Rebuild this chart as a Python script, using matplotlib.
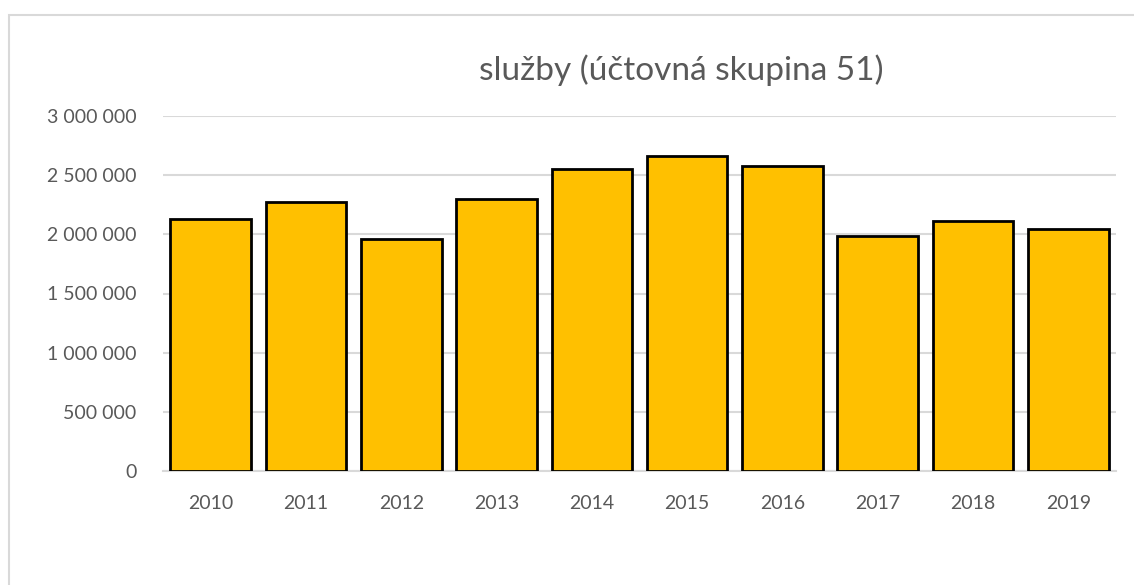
import matplotlib
matplotlib.use("Agg")
import matplotlib.pyplot as plt
from matplotlib.patches import Rectangle
from matplotlib.ticker import FuncFormatter, MultipleLocator

years = ["2010", "2011", "2012", "2013", "2014", "2015", "2016", "2017", "2018", "2019"]
values = [2129000, 2273000, 1958000, 2301000, 2549000, 2662000, 2577000, 1986000, 2110000, 2043000]
title = "služby (účtovná skupina 51)"

plt.rcParams['font.family'] = ['Lato', 'DejaVu Sans']

fig = plt.figure(figsize=(11.34, 5.85), dpi=100)
ax = fig.add_axes([163/1134, 1-471/585, (1116-163)/1134, (471-116)/585])

# outer chart border
fig.patches.append(Rectangle((9/1134, -0.05), 1.2, 1-15/585+0.05, transform=fig.transFigure,
                             fill=False, edgecolor='#d9d9d9', linewidth=1.5))

x = range(len(years))
ax.bar(x, values, width=0.845, color='#FFC000', edgecolor='black', linewidth=2, zorder=3)

ax.set_xlim(-0.5, len(years)-0.5)
ax.set_ylim(0, 3000000)
ax.yaxis.set_major_locator(MultipleLocator(500000))
ax.yaxis.set_major_formatter(FuncFormatter(lambda v, p: f"{int(v):,}".replace(",", " ")))
ax.set_xticks(list(x))
ax.set_xticklabels(years)
ax.grid(axis='y', color='#d9d9d9', linewidth=1.5, zorder=0)
for s in ['top', 'right', 'left']:
    ax.spines[s].set_visible(False)
ax.spines['bottom'].set_color('#d9d9d9')
ax.spines['bottom'].set_linewidth(1.5)
ax.tick_params(axis='both', length=0, colors='#595959', labelsize=14)
ax.tick_params(axis='x', pad=17)
ax.tick_params(axis='y', pad=19)

fig.text(681/1134, 1-70/585, title, ha='center', va='center', fontsize=24, color='#595959')

fig.savefig("out.png", dpi=100)
